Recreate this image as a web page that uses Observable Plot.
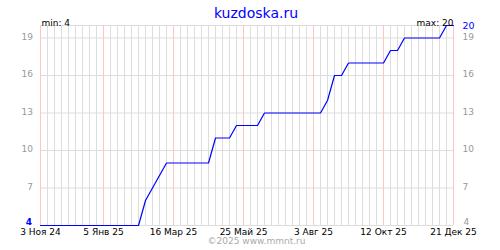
<!DOCTYPE html>
<html>
<head>
<meta charset="utf-8">
<script src="https://cdn.jsdelivr.net/npm/d3@7"></script>
<script src="https://cdn.jsdelivr.net/npm/@observablehq/plot@0.6"></script>
<style>
  html, body { margin: 0; padding: 0; background: #fff; }
  #chart svg { display: block; }
</style>
</head>
<body>
<div id="chart"></div>
<script>
// ---- data ----
const titleText = "kuzdoska.ru";
const footerText = "©2025 www.mmnt.ru";
const startWeek = "2024-11-03";   // first weekly sample
// weekly values, one per week from startWeek
const values = [
  4, 4, 4, 4, 4, 4, 4, 4, 4, 4,
  4, 4, 4, 4, 4, 6, 7, 8, 9, 9,
  9, 9, 9, 9, 9, 11, 11, 11, 12, 12,
  12, 12, 13, 13, 13, 13, 13, 13, 13, 13,
  13, 14, 16, 16, 17, 17, 17, 17, 17, 17,
  18, 18, 19, 19, 19, 19, 19, 19, 20, 20
];
const tickDates = ["2024-11-03", "2025-01-05", "2025-03-16", "2025-05-25", "2025-08-03", "2025-10-12", "2025-12-21"];
const tickLabels = ["3 Ноя 24", "5 Янв 25", "16 Мар 25", "25 Май 25", "3 Авг 25", "12 Окт 25", "21 Дек 25"];
const yTicks = [4, 7, 10, 13, 16, 19];
const yTop = 20;

// ---- build table ----
const start = new Date(startWeek + "T00:00:00Z");
const data = values.map((v, i) => ({date: d3.utcDay.offset(start, 7 * i), value: v}));
const ticks = tickDates.map(s => new Date(s + "T00:00:00Z"));
const minVal = d3.min(values);
const maxVal = d3.max(values);
const innerTicks = yTicks.filter(v => v !== minVal);
const font = "DejaVu Sans, sans-serif";

const chart = Plot.plot({
  width: 500,
  height: 250,
  marginTop: 25,
  marginBottom: 25,
  marginLeft: 40,
  marginRight: 47,
  style: {fontFamily: font, fontSize: "9px", background: "#fff", overflow: "visible"},
  x: {type: "utc", domain: [data[0].date, data[data.length - 1].date], axis: null},
  y: {domain: [minVal, yTop], axis: null},
  marks: [
    // weekly vertical grid
    Plot.ruleX(data, {x: "date", stroke: "#dddddd", strokeWidth: 1}),
    // horizontal grid
    Plot.ruleY(yTicks.concat([yTop]), {stroke: "#dddddd", strokeWidth: 1}),
    // labelled date grid lines
    Plot.ruleX(ticks, {x: d => d, stroke: "#ffc4c4", strokeWidth: 1}),
    // series
    Plot.line(data, {x: "date", y: "value", stroke: "#0000ff", strokeWidth: 1.2}),
    // x tick labels
    Plot.text(ticks, {x: d => d, frameAnchor: "bottom", dy: 9, text: (d, i) => tickLabels[i], fill: "#000", fontSize: 9}),
    // left y labels
    Plot.text(innerTicks, {y: d => d, frameAnchor: "left", textAnchor: "end", dx: -7.5, dy: -1, text: d => String(d), fill: "#999", fontSize: 9}),
    Plot.text([minVal], {y: d => d, frameAnchor: "left", textAnchor: "end", dx: -8.5, dy: -3, text: d => String(d), fill: "#0000ff", fontSize: 9, fontWeight: "bold"}),
    // right y labels
    Plot.text(innerTicks, {y: d => d, frameAnchor: "right", textAnchor: "start", dx: 9, dy: -1, text: d => String(d), fill: "#999", fontSize: 9}),
    Plot.text([minVal], {y: d => d, frameAnchor: "right", textAnchor: "start", dx: 10, dy: -3, text: d => String(d), fill: "#999", fontSize: 9}),
    Plot.text([maxVal], {y: d => d, frameAnchor: "right", textAnchor: "start", dx: 9, dy: 0, text: d => String(d), fill: "#0000ff", fontSize: 9.5}),
    // min / max annotations
    Plot.text(["min: " + minVal], {frameAnchor: "top-left", textAnchor: "start", dx: 1, dy: -5.5, text: d => d, fill: "#000", fontSize: 9}),
    Plot.text(["max: " + maxVal], {frameAnchor: "top-right", textAnchor: "end", dx: 0, dy: -5.5, text: d => d, fill: "#000", fontSize: 9}),
    // title and footer
    Plot.text([titleText], {frameAnchor: "top", dx: 9, dy: -17, text: d => d, fill: "#0000ff", fontSize: 14}),
    Plot.text([footerText], {frameAnchor: "bottom", dx: 9.5, dy: 18, text: d => d, fill: "#aaaaaa", fontSize: 9})
  ]
});
document.getElementById("chart").append(chart);
</script>
</body>
</html>
